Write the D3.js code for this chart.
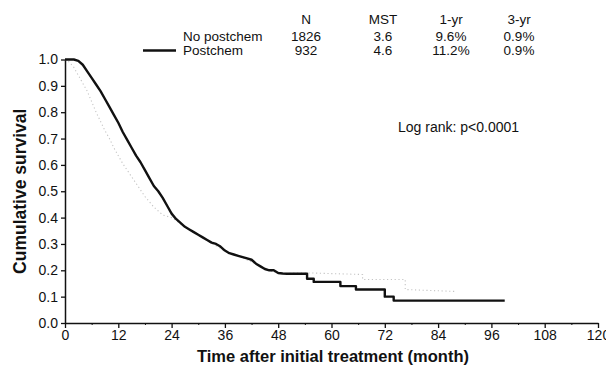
<!DOCTYPE html>
<html>
<head>
<meta charset="utf-8">
<script src="https://cdn.jsdelivr.net/npm/d3@7"></script>
<style>
  html, body { margin: 0; padding: 0; background: #fff; }
  text { font-family: "Liberation Sans", Arial, Helvetica, sans-serif; fill: #111; }
</style>
</head>
<body>
<svg id="chart" width="606" height="370"></svg>
<script>
// ---- Data (Kaplan-Meier curves) ----
const postchemTime = [0, 2, 3, 4, 5, 6, 7, 8, 9, 10, 11, 12, 13, 14, 15, 16, 17, 18, 19, 20,
  21, 22, 23, 24, 25, 26, 27, 28, 29, 30, 31, 32, 33, 34, 35, 36, 37, 38, 39, 40,
  41, 42, 43, 44, 45, 46, 47, 48, 49, 50,
  54.5, 54.5, 56, 56, 62, 62, 65.5, 65.5, 72, 72, 74, 74, 99];
const postchemSurv = [1.0, 1.0, 0.995, 0.98, 0.955, 0.93, 0.905, 0.88, 0.85, 0.82, 0.79, 0.76, 0.725, 0.695, 0.665, 0.635, 0.61, 0.58, 0.55, 0.52,
  0.50, 0.475, 0.445, 0.415, 0.395, 0.38, 0.365, 0.355, 0.345, 0.335, 0.325, 0.315, 0.305, 0.30, 0.29, 0.275, 0.265, 0.26, 0.255, 0.25,
  0.245, 0.24, 0.225, 0.215, 0.205, 0.20, 0.20, 0.19, 0.188, 0.187,
  0.187, 0.168, 0.168, 0.156, 0.156, 0.14, 0.14, 0.127, 0.127, 0.10, 0.10, 0.085, 0.085];

const noPostTime = [0, 1, 2, 3, 4, 5, 6, 7, 8, 9, 10, 11, 12, 13, 14, 15, 16, 17, 18, 19, 20, 21, 22,
  24, 25, 26, 28, 30, 33, 36, 40, 43, 46, 48, 50, 52, 55,
  67, 67, 76.6, 76.6, 87.5, 87.5];
const noPostSurv = [1.0, 0.99, 0.97, 0.94, 0.91, 0.88, 0.84, 0.80, 0.765, 0.73, 0.70, 0.665, 0.635, 0.605, 0.58, 0.555, 0.53, 0.505, 0.48, 0.46, 0.44, 0.425, 0.41,
  0.40, 0.39, 0.376, 0.353, 0.333, 0.303, 0.273, 0.248, 0.223, 0.198, 0.19, 0.188, 0.19, 0.19,
  0.184, 0.165, 0.165, 0.127, 0.12, 0.113];

const xTicks = [0, 12, 24, 36, 48, 60, 72, 84, 96, 108, 120];
const xMinorTicks = [6, 18, 30, 42, 54, 66, 78, 90, 102, 114];
const yTicks = [0, 0.1, 0.2, 0.3, 0.4, 0.5, 0.6, 0.7, 0.8, 0.9, 1.0];

const legendHeaders = ["N", "MST", "1-yr", "3-yr"];
const legendGroups = ["No postchem", "Postchem"];
const legendN = ["1826", "932"];
const legendMST = ["3.6", "4.6"];
const legend1yr = ["9.6%", "11.2%"];
const legend3yr = ["0.9%", "0.9%"];

// ---- Layout ----
const svg = d3.select("#chart");
const x = d3.scaleLinear().domain([0, 120]).range([65, 598]);
const y = d3.scaleLinear().domain([0, 1]).range([323, 59.5]);
const FONT = "'Liberation Sans', Arial, sans-serif";

// Axes
const xAxis = svg.append("g").attr("transform", `translate(0,${y(0)})`)
  .call(d3.axisBottom(x).tickValues(xTicks).tickFormat(d3.format("d")).tickSize(5).tickPadding(2).tickSizeOuter(0));
xAxis.select(".domain").attr("stroke", "#111").attr("stroke-width", 1.5);
xAxis.selectAll(".tick line").attr("stroke", "#111").attr("stroke-width", 1.3);
xAxis.selectAll(".tick text").attr("font-size", 14).attr("fill", "#111").style("font-family", FONT);

const xMinor = svg.append("g").attr("transform", `translate(0,${y(0)})`)
  .call(d3.axisBottom(x).tickValues(xMinorTicks).tickSize(2).tickFormat(""));
xMinor.select(".domain").remove();
xMinor.selectAll(".tick line").attr("stroke", "#111").attr("stroke-width", 1);

const yAxis = svg.append("g").attr("transform", `translate(${x(0)},0)`)
  .call(d3.axisLeft(y).tickValues(yTicks).tickFormat(d3.format(".1f")).tickSize(4).tickPadding(3).tickSizeOuter(0));
yAxis.select(".domain").attr("stroke", "#111").attr("stroke-width", 1.5);
yAxis.selectAll(".tick line").attr("stroke", "#111").attr("stroke-width", 1.3);
yAxis.selectAll(".tick text").attr("font-size", 14).attr("fill", "#111").style("font-family", FONT);

// Curves
const noPostData = noPostTime.map((t, i) => ({ t, s: noPostSurv[i] }));
const postData = postchemTime.map((t, i) => ({ t, s: postchemSurv[i] }));
const lineGen = d3.line().x(d => x(d.t)).y(d => y(d.s)).curve(d3.curveLinear);

svg.append("path")
  .datum(noPostData)
  .attr("fill", "none")
  .attr("stroke", "#c4c4c4")
  .attr("stroke-width", 1.1)
  .attr("stroke-dasharray", "1.2,2.6")
  .attr("d", lineGen);

svg.append("path")
  .datum(postData)
  .attr("fill", "none")
  .attr("stroke", "#111")
  .attr("stroke-width", 2.4)
  .attr("stroke-linejoin", "round")
  .attr("d", lineGen);

// Axis titles
svg.append("text")
  .attr("x", 333).attr("y", 362)
  .attr("text-anchor", "middle")
  .attr("font-size", 16.5).attr("font-weight", "bold")
  .text("Time after initial treatment (month)");

svg.append("text")
  .attr("transform", `translate(26,${y(0.5)}) rotate(-90)`)
  .attr("text-anchor", "middle")
  .attr("font-size", 17.5).attr("font-weight", "bold")
  .text("Cumulative survival");

// Legend table
const colX = [306, 383, 451, 519];
const headerY = 24;
const rowY = [41, 55];
const LF = 13.5;
svg.selectAll(".hdr").data(legendHeaders).enter().append("text")
  .attr("x", (d, i) => colX[i]).attr("y", headerY)
  .attr("text-anchor", "middle").attr("font-size", LF).text(d => d);

legendGroups.forEach((g, r) => {
  svg.append("text").attr("x", 183).attr("y", rowY[r]).attr("font-size", LF).text(g);
  [legendN[r], legendMST[r], legend1yr[r], legend3yr[r]].forEach((v, c) => {
    svg.append("text").attr("x", colX[c]).attr("y", rowY[r])
      .attr("text-anchor", "middle").attr("font-size", LF).text(v);
  });
});
svg.append("line")
  .attr("x1", 143).attr("x2", 176).attr("y1", rowY[1] - 4.5).attr("y2", rowY[1] - 4.5)
  .attr("stroke", "#111").attr("stroke-width", 2.4);

svg.append("text")
  .attr("x", 398).attr("y", 132).attr("font-size", 14)
  .text("Log rank: p<0.0001");
</script>
</body>
</html>
